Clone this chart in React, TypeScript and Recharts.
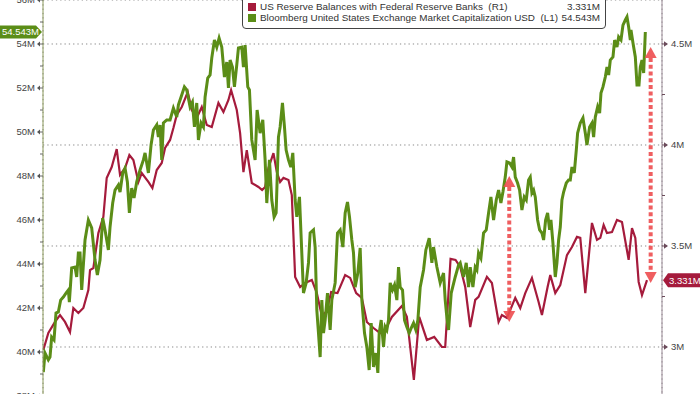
import React from "react";
import {
  LineChart,
  Line,
  XAxis,
  YAxis,
  CartesianGrid,
  ReferenceLine,
} from "recharts";

// series labels and last values (legend + axis badges)
const seriesNames = [
  "US Reserve Balances with Federal Reserve Banks",
  "Bloomberg United States Exchange Market Capitalization USD",
];
const seriesTags = ["(R1)", "(L1)"];
const lastValues = [3.331, 54.543];

// weekly index, grid every 13 weeks (quarter)
const quarterTicks = [0, 13, 26, 39, 52, 65, 78, 91, 104, 117, 130, 143, 156, 169];
const leftTicks = [38, 39, 40, 41, 42, 43, 44, 45, 46, 47, 48, 49, 50, 51, 52, 53, 54, 55, 56];
const rightTicks = [3, 3.25, 3.5, 3.75, 4, 4.25, 4.5];
const rightMajorTicks = [3, 3.5, 4, 4.5];

// US reserve balances (right axis, millions)
const reserveWeeks = [
  -7.3, -5.8, -3.8, -2.3, -0.8, 0.7, 1.7, 3.2, 4.7, 6.2,
  6.7, 7.7, 9.2, 10.7, 11.7, 13.2, 14.7, 15.7, 17.2, 18.5,
  19.7, 21.2, 22.2, 24.2, 25.4, 26.7, 28.2, 29.2, 30.7, 31.7,
  32.7, 34.2, 36.0, 37.2, 38.7, 40.2, 41.7, 43.2, 45.2, 46.7,
  48.2, 49.0, 50.7, 51.7, 52.7, 53.7, 55.2, 57.2, 58.3, 59.2,
  60.2, 61.7, 62.7, 63.7, 64.7, 66.2, 67.2, 68.2, 69.7, 71.2,
  73.2, 74.7, 76.2, 77.7, 79.0, 80.9, 83.2, 84.7, 86.5, 88.2,
  89.7, 91.7, 93.7, 95.2, 97.2, 100.2, 101.7, 103.8, 105.4, 107.7,
  109.9, 112.2, 113.2, 114.8, 116.3, 117.7, 119.2, 120.7, 122.2, 123.2,
  125.7, 127.2, 129.2, 130.2, 131.7, 134.2, 135.7, 137.2, 139.2, 141.2,
  142.2, 143.9, 144.7, 146.2, 147.7, 149.7, 151.2, 152.7, 153.7, 155.2,
  157.2, 158.7, 159.7, 160.7, 161.7, 163.2, 164.7, 166.2, 168.2, 169.2,
  170.2, 171.2, 172.2, 173.7,
];
const reserveValues = [
  2.985, 3.069, 3.124, 3.158, 3.124, 3.074, 3.193, 3.168, 3.193, 3.282,
  3.381, 3.391, 3.564, 3.644, 3.837, 3.891, 3.98, 3.852, 3.886, 3.95,
  3.926, 3.817, 3.861, 3.817, 3.787, 3.876, 3.911, 3.985, 4.025, 4.084,
  4.149, 4.188, 4.262, 4.173, 4.134, 4.188, 4.099, 4.089, 4.208, 4.163,
  4.223, 4.272, 4.173, 4.059, 3.866, 3.975, 3.812, 3.792, 3.777, 3.792,
  3.886, 3.96, 3.866, 3.817, 3.837, 3.827, 3.752, 3.347, 3.297, 3.317,
  3.332, 3.267, 3.153, 3.178, 3.272, 3.267, 3.356, 3.342, 3.267, 3.243,
  3.124, 3.094, 3.069, 3.084, 3.149, 3.203, 3.149, 2.837, 3.149, 3.035,
  3.05, 3.0, 3.0, 3.436, 3.431, 3.396, 3.297, 3.099, 3.233, 3.248,
  3.347, 3.317, 3.124, 3.158, 3.144, 3.243, 3.193, 3.267, 3.342, 3.223,
  3.158, 3.297, 3.356, 3.267, 3.307, 3.455, 3.495, 3.545, 3.54, 3.267,
  3.614, 3.53, 3.54, 3.604, 3.564, 3.569, 3.629, 3.619, 3.431, 3.589,
  3.54, 3.322, 3.257, 3.331,
];

// US exchange market cap (left axis, millions)
const marketCapWeeks = [
  -7.3, -6.8, -5.8, -5.3, -4.8, -4.1, -3.5, -2.8, -2.1, -1.3,
  -0.5, 0.2, 0.5, 1.2, 2.2, 2.7, 3.2, 3.7, 4.2, 5.2,
  6.2, 7.2, 8.2, 8.9, 9.7, 10.5, 11.2, 11.7, 12.2, 12.7,
  13.5, 14.2, 15.2, 15.7, 16.5, 17.2, 17.9, 18.5, 19.2, 19.9,
  20.7, 21.7, 22.7, 23.2, 24.2, 25.0, 25.7, 26.7, 27.2, 27.7,
  28.2, 28.7, 29.7, 30.7, 31.7, 32.7, 33.2, 34.2, 35.0, 35.7,
  36.7, 37.4, 38.0, 38.7, 39.2, 40.0, 40.7, 41.2, 42.0, 42.7,
  43.2, 44.0, 44.7, 45.4, 46.2, 47.0, 47.7, 48.2, 48.7, 49.4,
  50.0, 50.7, 51.2, 52.2, 52.7, 53.2, 54.0, 54.5, 55.2, 56.2,
  56.8, 57.7, 58.5, 59.2, 59.7, 60.5, 61.2, 61.9, 62.5, 63.2,
  63.7, 64.4, 65.0, 65.5, 66.2, 66.9, 67.5, 68.2, 68.7, 69.5,
  70.2, 70.7, 71.5, 72.2, 72.7, 73.7, 74.2, 74.7, 75.2, 75.7,
  76.2, 76.7, 77.2, 77.9, 78.7, 79.2, 80.2, 80.9, 81.7, 82.5,
  83.2, 83.9, 84.5, 85.2, 85.7, 86.2, 87.0, 87.7, 88.2, 89.0,
  89.7, 90.4, 91.0, 91.7, 92.4, 93.0, 93.4, 94.0, 94.7, 95.2,
  95.7, 96.2, 96.7, 97.4, 98.0, 98.7, 99.2, 99.7, 100.4, 101.0,
  101.7, 102.4, 103.0, 103.7, 104.4, 105.0, 105.7, 106.7, 107.4, 108.4,
  109.2, 109.7, 110.7, 111.7, 112.7, 113.2, 113.7, 114.2, 115.0, 116.2,
  117.2, 117.7, 118.7, 119.5, 120.2, 120.7, 121.5, 122.2, 122.7, 123.2,
  123.9, 124.7, 125.5, 126.2, 126.9, 127.7, 128.5, 129.2, 129.9, 130.5,
  131.2, 131.7, 132.5, 133.2, 133.7, 134.2, 134.9, 135.5, 136.2, 136.9,
  137.5, 138.2, 138.7, 139.2, 139.7, 140.2, 140.9, 141.5, 142.2, 142.7,
  143.3, 143.9, 144.5, 144.9, 145.5, 146.2, 146.7, 147.2, 147.7, 148.2,
  148.7, 149.5, 150.2, 150.7, 151.2, 151.9, 152.5, 152.9, 153.7, 154.5,
  155.2, 155.7, 156.5, 157.2, 157.7, 158.2, 158.9, 159.5, 159.9, 160.5,
  161.2, 161.7, 162.2, 162.7, 163.5, 164.0, 164.7, 165.2, 165.9, 166.5,
  167.2, 167.7, 168.2, 168.7, 168.9, 169.5, 170.2, 170.7, 171.3, 171.7,
  172.2, 172.7, 173.2,
];
const marketCapValues = [
  39.09, 39.95, 39.64, 39.77, 40.68, 40.55, 41.77, 41.82, 42.36, 42.5,
  42.68, 42.82, 42.27, 43.82, 43.86, 43.41, 44.5, 44.5, 42.82, 45.09,
  46.0, 45.64, 44.18, 43.5, 44.18, 46.09, 45.55, 45.09, 44.64, 45.68,
  46.77, 47.36, 47.59, 47.27, 48.14, 48.36, 47.73, 46.32, 47.45, 47.0,
  47.73, 48.27, 48.73, 49.05, 48.14, 49.41, 50.09, 50.32, 49.77, 50.32,
  48.73, 50.41, 50.55, 50.55, 51.09, 50.68, 51.23, 51.68, 52.05, 51.91,
  51.14, 51.36, 50.23, 51.32, 49.64, 50.41, 50.23, 51.59, 52.45, 52.59,
  53.36, 54.18, 53.86, 54.27, 53.86, 52.5, 53.18, 52.0, 53.27, 52.95,
  52.05, 53.05, 53.82, 53.86, 52.95, 53.95, 52.05, 51.91, 49.64, 48.73,
  51.0, 49.95, 50.55, 48.73, 46.77, 48.73, 46.91, 46.14, 46.32, 49.77,
  50.23, 51.32, 50.23, 49.18, 48.73, 48.41, 49.05, 46.91, 46.14, 47.05,
  44.5, 42.68, 43.14, 44.05, 45.41, 45.55, 44.77, 41.91, 40.86, 39.77,
  42.36, 40.86, 41.45, 42.68, 41.0, 42.36, 43.14, 45.41, 45.55, 44.77,
  46.32, 46.82, 46.14, 45.09, 44.5, 42.95, 43.59, 44.73, 42.36, 40.86,
  40.23, 39.18, 41.32, 39.32, 39.95, 39.05, 40.86, 41.45, 40.23, 41.14,
  41.0, 41.45, 43.14, 42.82, 43.05, 42.36, 43.86, 42.95, 42.82, 41.45,
  41.14, 40.86, 41.09, 41.32, 41.0, 41.45, 42.95, 43.73, 44.64, 45.18,
  44.05, 44.77, 43.86, 43.14, 43.59, 42.36, 41.55, 41.0, 42.68, 43.41,
  43.95, 44.05, 43.41, 44.05, 42.95, 43.86, 42.95, 43.86, 43.73, 44.5,
  44.27, 45.41, 45.55, 46.32, 47.05, 46.0, 46.91, 47.36, 46.77, 47.27,
  47.95, 48.64, 48.59, 48.41, 48.86, 47.95, 47.68, 47.36, 46.45, 47.05,
  46.91, 47.82, 47.95, 47.23, 47.36, 47.05, 46.0, 45.55, 45.41, 45.09,
  46.0, 46.32, 45.55, 46.0, 44.95, 43.41, 44.05, 45.09, 45.68, 46.91,
  47.27, 47.68, 47.82, 47.82, 48.41, 48.14, 49.18, 49.95, 50.41, 50.64,
  49.95, 49.41, 50.23, 50.41, 49.77, 50.68, 51.14, 50.86, 51.77, 52.05,
  52.5, 52.95, 52.59, 53.27, 53.41, 54.18, 53.86, 54.32, 54.18, 54.86,
  55.09, 55.23, 54.77, 54.18, 54.64, 54.05, 53.41, 52.14, 52.14, 52.95,
  53.27, 52.68, 54.543,
];

// annotation arrows (week, top value, bottom value on left axis)
const arrowWeeks = [132.4, 174.8];
const arrowTops = [48.0, 53.86];
const arrowBottoms = [41.36, 43.14];

const reserveData = reserveWeeks.map((t, i) => ({ t, reserves: reserveValues[i] }));
const marketCapData = marketCapWeeks.map((t, i) => ({ t, marketCap: marketCapValues[i] }));

const FONT = '"Liberation Sans", Arial, sans-serif';
const GREEN = "#5b8d17";
const RED = "#a51b3c";
const ARROW = "#ee4d4f";

const LeftTick = ({ x, y, payload }: any) => {
  const major = payload.value % 2 === 0;
  return (
    <g>
      <line x1={major ? x + 3 : x + 5} x2={x + 8} y1={y} y2={y} stroke="#666" />
      {major && (
        <polygon points={`${x + 2},${y} ${x + 5},${y - 2.5} ${x + 5},${y + 2.5}`} fill="#555" />
      )}
      {major && (
        <text x={x} y={y} dy={3.3} textAnchor="end" fontSize={9.5} fontFamily={FONT} fill="#444">
          {payload.value}M
        </text>
      )}
    </g>
  );
};

const RightTick = ({ x, y, payload }: any) => {
  const major = rightMajorTicks.includes(payload.value);
  return (
    <g>
      <line x1={x - 8} x2={major ? x - 3 : x - 5} y1={y} y2={y} stroke="#6a4a5a" />
      {major && (
        <polygon points={`${x - 2},${y} ${x - 6},${y - 2.8} ${x - 6},${y + 2.8}`} fill="#6a4a5a" />
      )}
      {major && (
        <text x={x + 1} y={y} dy={3.3} textAnchor="start" fontSize={9.5} fontFamily={FONT} fill="#444">
          {payload.value}M
        </text>
      )}
    </g>
  );
};

const DashedArrow = (props: any) => {
  const { x1, y1, y2 } = props;
  const top = Math.min(y1, y2);
  const bottom = Math.max(y1, y2);
  const head = 11;
  const half = 6;
  return (
    <g opacity={0.9}>
      <line
        x1={x1}
        x2={x1}
        y1={top + head}
        y2={bottom - head}
        stroke={ARROW}
        strokeWidth={4}
        strokeDasharray="4 2.7"
      />
      <polygon points={`${x1},${top} ${x1 - half},${top + head} ${x1 + half},${top + head}`} fill={ARROW} />
      <polygon
        points={`${x1},${bottom} ${x1 - half},${bottom - head} ${x1 + half},${bottom - head}`}
        fill={ARROW}
      />
    </g>
  );
};

const LeftBadge = (props: any) => {
  const { x, y } = props.viewBox;
  const l = x - 43;
  return (
    <g>
      <path
        d={`M${l},${y - 6.5} H${x - 7} L${x - 1},${y} L${x - 7},${y + 6.5} H${l} Z`}
        fill={GREEN}
      />
      <text x={l + 2} y={y} dy={3.4} fontSize={9.5} fontFamily={FONT} fill="#fff">
        {lastValues[1].toFixed(3)}M
      </text>
    </g>
  );
};

const RightBadge = (props: any) => {
  const { x, y, width } = props.viewBox;
  const r = x + width;
  return (
    <g>
      <path
        d={`M${r + 1},${y} L${r + 6},${y - 7} H${r + 45} V${y + 7} H${r + 6} Z`}
        fill={RED}
      />
      <text x={r + 7} y={y} dy={3.4} fontSize={9.5} fontFamily={FONT} fill="#fff">
        {lastValues[0].toFixed(3)}M
      </text>
    </g>
  );
};

const legendColors = [RED, GREEN];

function ChartLegend() {
  return (
    <div
      style={{
        position: "absolute",
        left: 242,
        top: -6,
        width: 362,
        height: 33,
        border: "1px solid #444",
        borderRadius: 4,
        background: "#fff",
        fontFamily: FONT,
        fontSize: 9.9,
        color: "#333",
        zIndex: 2,
      }}
    >
      {seriesNames.map((name, i) => (
        <div
          key={name}
          style={{
            position: "absolute",
            left: 5,
            right: 5,
            top: 6 + i * 11,
            height: 11,
            lineHeight: "11px",
            whiteSpace: "nowrap",
          }}
        >
          <span
            style={{
              display: "inline-block",
              width: 8,
              height: 8,
              background: legendColors[i],
              marginRight: 4,
              verticalAlign: "-1px",
            }}
          />
          {name}&nbsp;&nbsp;{seriesTags[i]}
          <span style={{ position: "absolute", right: 0, top: 0, background: "#fff", paddingLeft: 2 }}>
            {lastValues[i].toFixed(3)}M
          </span>
        </div>
      ))}
    </div>
  );
}

export default function App() {
  return (
    <div
      style={{
        position: "fixed",
        left: 0,
        top: 0,
        width: 700,
        height: 394,
        overflow: "hidden",
        background: "#fff",
      }}
    >
      <ChartLegend />
      <LineChart width={700} height={396} margin={{ top: 0, right: 0, bottom: 0, left: 0 }}>
        <CartesianGrid
          yAxisId="grid"
          stroke="#8a8a8a"
          strokeDasharray="1.3 3"
        />
        <XAxis
          dataKey="t"
          type="number"
          domain={[-7.4, 178.2]}
          allowDataOverflow
          ticks={quarterTicks}
          tick={false}
          tickLine={false}
          axisLine={false}
          height={0}
        />
        <YAxis
          yAxisId="right"
          orientation="right"
          domain={[2.7574, 4.7178]}
          allowDataOverflow
          ticks={rightTicks}
          interval={0}
          width={38}
          tickSize={6}
          tickMargin={2}
          tickLine={false}
          axisLine={{ stroke: "#9a8a96" }}
          tick={<RightTick />}
        />
        <YAxis
          yAxisId="left"
          orientation="left"
          domain={[38, 56]}
          allowDataOverflow
          ticks={leftTicks}
          interval={0}
          width={43}
          tickSize={6}
          tickMargin={2}
          tickLine={false}
          axisLine={{ stroke: "#8c9a5c" }}
          tick={<LeftTick />}
        />
        <YAxis
          yAxisId="grid"
          orientation="right"
          domain={[2.7574, 4.7178]}
          allowDataOverflow
          ticks={rightMajorTicks}
          width={0}
          hide
        />
        <Line
          data={reserveData}
          yAxisId="right"
          dataKey="reserves"
          stroke={RED}
          strokeWidth={2.2}
          dot={false}
          isAnimationActive={false}
        />
        <Line
          data={marketCapData}
          yAxisId="left"
          dataKey="marketCap"
          stroke={GREEN}
          strokeWidth={3}
          dot={false}
          isAnimationActive={false}
        />
        {arrowWeeks.map((w, i) => (
          <ReferenceLine
            key={`arrow-${i}`}
            yAxisId="left"
            segment={[
              { x: w, y: arrowTops[i] },
              { x: w, y: arrowBottoms[i] },
            ]}
            shape={DashedArrow}
          />
        ))}
        <ReferenceLine
          yAxisId="left"
          y={lastValues[1]}
          strokeOpacity={0}
          label={LeftBadge}
        />
        <ReferenceLine
          yAxisId="right"
          y={lastValues[0]}
          strokeOpacity={0}
          label={RightBadge}
        />
      </LineChart>
    </div>
  );
}
